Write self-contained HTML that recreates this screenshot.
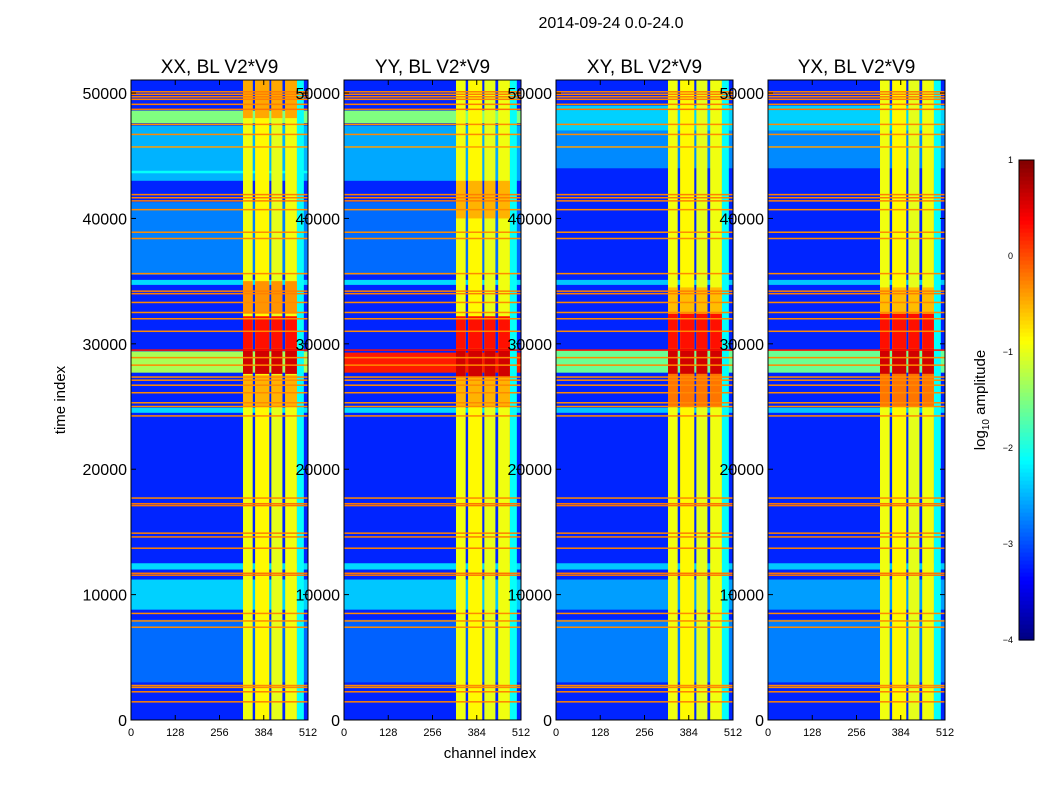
<!DOCTYPE html>
<html><head><meta charset="utf-8"><style>
body{margin:0;background:#fff;width:1050px;height:800px;overflow:hidden;font-family:"Liberation Sans",sans-serif}
svg{position:absolute;left:0;top:0}
</style></head><body>
<svg id="fig" width="1050" height="800" xmlns="http://www.w3.org/2000/svg"></svg>
<script>
// ---- data ----
const panelTitles = ["XX, BL V2*V9","YY, BL V2*V9","XY, BL V2*V9","YX, BL V2*V9"];
const yTicks = [0,10000,20000,30000,40000,50000];
const xTicks = [0,128,256,384,512];
const cbTicks = [1,0,-1,-2,-3,-4];
const bgLevel = [-3.2,-3.2,-3.2,-3.2];
// full-width horizontal regions: [tStart, tEnd, log10 amplitude]
const bgBandsP1 = [[43000,47400,-2.5],[47600,48600,-1.5],[35500,41300,-2.75],[34700,35100,-2.3],[43600,43800,-2.1],[27700,29400,-1.3],[24500,24900,-2.3],[12000,12500,-2.3],[8800,11200,-2.35],[3000,8000,-2.85]];
const bgBandsP2 = [[43000,47400,-2.55],[47600,48600,-1.5],[35500,41300,-2.85],[34700,35100,-2.3],[27700,29300,0.25],[24500,24900,-2.3],[12000,12500,-2.3],[8800,11200,-2.4],[3000,8000,-2.9]];
const bgBandsP3 = [[44000,47000,-2.7],[47000,49000,-2.35],[34700,35100,-2.4],[27700,29500,-1.6],[24500,24900,-2.4],[12000,12500,-2.4],[8800,11200,-2.6],[3000,8000,-2.75]];
const bgBandsP4 = [[44000,47000,-2.7],[47000,49000,-2.35],[34700,35100,-2.4],[27700,29500,-1.6],[24500,24900,-2.4],[12000,12500,-2.4],[8800,11200,-2.6],[3000,8000,-2.75]];
const bgBands = [bgBandsP1,bgBandsP2,bgBandsP3,bgBandsP4];
// vertical channel regions: [chStart, chEnd, value]
const colBands = [[324,352,-0.95],[359,400,-0.85],[406,438,-1.0],[446,480,-0.95],[480,500,-2.1]];
// hot blocks applied on the main column bands: [tStart,tEnd,value]
const hotP1 = [[48000,51000,-0.45],[32400,35000,-0.35],[29600,32200,0.3],[27600,29600,0.6],[25000,27500,-0.5]];
const hotP2 = [[40000,43000,-0.5],[29600,32200,0.3],[27300,29600,0.6],[25000,27300,-0.5]];
const hotP3 = [[32400,34500,-0.55],[29600,32400,0.3],[27600,29600,0.6],[25000,27600,-0.2]];
const hotP4 = [[32400,34500,-0.55],[29600,32400,0.3],[27600,29600,0.6],[25000,27600,-0.2]];
const hotBlocks = [hotP1,hotP2,hotP3,hotP4];
// thin orange lines at these times: [t, value]
const rowLines = [[50100,-0.25],[49900,-0.25],[49700,-0.25],[49500,-0.25],[49100,-0.25],[48700,-0.2],[47500,-0.3],[46700,-0.3],[45700,-0.4],[41900,-0.25],[41650,-0.25],[41400,-0.25],[40700,-0.3],[38900,-0.3],[38400,-0.3],[35600,-0.3],[34200,-0.25],[34000,-0.25],[33300,-0.3],[32500,-0.3],[32000,-0.3],[31000,-0.3],[29500,0.3],[28900,-0.3],[28300,-0.3],[27350,-0.3],[27100,-0.3],[26700,-0.3],[26100,-0.3],[25300,-0.3],[25000,-0.3],[24250,-0.3],[17700,-0.3],[17100,-0.2],[17250,-0.2],[14900,-0.25],[14600,-0.25],[13700,-0.25],[11550,-0.2],[11700,-0.2],[8500,-0.3],[7900,-0.3],[7400,-0.3],[2750,-0.3],[2600,-0.3],[2250,-0.25],[1450,-0.25]];

// ---- layout ----
const panelX = [131,344,556,768], PW=177, PT=80, PB=720;
const ns="http://www.w3.org/2000/svg";
const svg=document.getElementById('fig');
function yS(t){return PB-(t/51040)*(PB-PT);}
function xS(p,c){return panelX[p]+c/512*PW;}
function clamp(v){return Math.max(0,Math.min(1,v));}
function jet(v){const f=(v+4)/5;const r=clamp(1.5-Math.abs(4*f-3)),g=clamp(1.5-Math.abs(4*f-2)),b=clamp(1.5-Math.abs(4*f-1));return `rgb(${Math.round(r*255)},${Math.round(g*255)},${Math.round(b*255)})`;}
function el(tag,attrs,parent){const e=document.createElementNS(ns,tag);for(const k in attrs)e.setAttribute(k,attrs[k]);(parent||svg).appendChild(e);return e;}
function rect(p,c0,c1,t0,t1,v,g){const y0=yS(t1),y1=yS(t0);return el('rect',{x:xS(p,c0),y:y0,width:xS(p,c1)-xS(p,c0),height:Math.max(y1-y0,1.2),fill:jet(v)},g);}
function txt(x,y,s,size,anchor,parent){const t=el('text',{x:x,y:y,'font-size':size,'text-anchor':anchor||'middle',fill:'#000'},parent);t.textContent=s;return t;}

const title=txt(611,28,"2014-09-24 0.0-24.0",16);



for(let p=0;p<4;p++){
  const g=el('g',{});
  
  
  rect(p,0,512,0,51040,bgLevel[p],g);
  bgBands[p].forEach(b=>{const r=rect(p,0,512,b[0],b[1],b[2],g);});
  colBands.forEach(c=>{const r=rect(p,c[0],c[1],0,51040,c[2],g);});
  hotBlocks[p].forEach(h=>{for(let i=0;i<4;i++){const r=rect(p,colBands[i][0],colBands[i][1],h[0],h[1],h[2],g);}});
  rowLines.forEach(l=>{const r=rect(p,0,512,l[0]-60,l[0]+60,l[1],g);});
  const fr=el('rect',{x:panelX[p],y:PT,width:PW,height:PB-PT,fill:'none',stroke:'#000','stroke-width':1});
  
  
  const pt=txt(panelX[p]+PW/2,73,panelTitles[p],19);
  
  
  yTicks.forEach(t=>{const y=yS(t);el('line',{x1:panelX[p],x2:panelX[p]+5,y1:y,y2:y,stroke:'#000'});el('line',{x1:panelX[p]+PW-5,x2:panelX[p]+PW,y1:y,y2:y,stroke:'#000'});
    const l=txt(panelX[p]-4,y+6,String(t),16,'end');});
  xTicks.forEach(c=>{const x=xS(p,c);el('line',{x1:x,x2:x,y1:PB,y2:PB-5,stroke:'#000'});el('line',{x1:x,x2:x,y1:PT,y2:PT+5,stroke:'#000'});
    const l=txt(x,736,String(c),11);});
}
const xt=txt(490,758,"channel index",15);


const yt=txt(0,0,"time index",15);
yt.setAttribute('transform','translate(65,400) rotate(-90)');



// colorbar
const cb=el('g',{});


const CBX=1019,CBW=15,CBT=160,CBB=640;
for(let i=0;i<120;i++){const v=-4+5*i/120;const y0=CBB-(i+1)*(CBB-CBT)/120;el('rect',{x:CBX,y:y0,width:CBW,height:(CBB-CBT)/120+0.6,fill:jet(v+5/240)},cb);}
el('rect',{x:CBX,y:CBT,width:CBW,height:CBB-CBT,fill:'none',stroke:'#000'},cb);
cbTicks.forEach(v=>{const y=CBB-(v+4)/5*(CBB-CBT);const l=txt(1013,y+3,v<0?'\u2212'+(-v):String(v),9,'end',cb);});
const cl=el('text',{'font-size':15,'text-anchor':'middle',transform:'translate(985,400) rotate(-90)'});
cl.innerHTML='log<tspan font-size="10" dy="4">10</tspan><tspan dy="-4"> amplitude</tspan>';


</script>
</body></html>
